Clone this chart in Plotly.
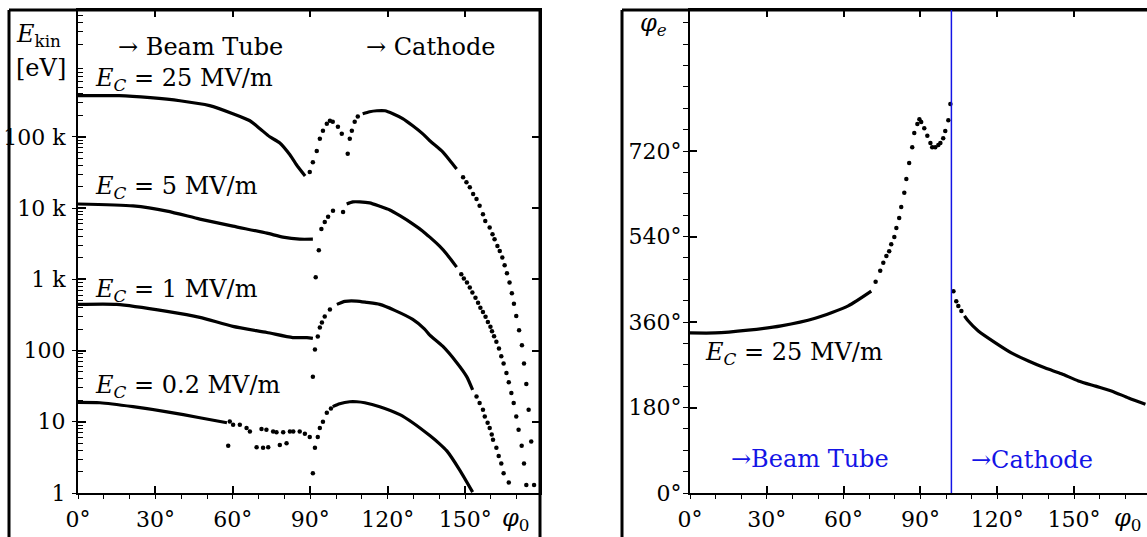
import plotly.graph_objects as go

# ---------------- data: left panel, E_kin [eV] vs phi0 [deg] ----------------
# E_C = 25 MV/m  (dense part drawn as line, sparse part as dots)
PHI25_LINE = [0, 16, 28, 39.5, 51, 60, 66.6, 70.5, 74.3, 78.2, 82.1, 85.2, 88, None,
              110.3, 113, 115.8, 118.9, 122, 125.8, 129.7, 133.6, 136.3, 141.3, 144, 146.7]
E25_LINE = [378e3, 378e3, 354e3, 321e3, 274e3, 211e3, 168e3, 130e3, 100e3, 82e3, 56e3, 38e3, 28.2e3, None,
            211e3, 225e3, 232e3, 232e3, 211e3, 180e3, 143e3, 110e3, 88e3, 61.5e3, 47e3, 35.4e3]
PHI25_DOTS = [89.8, 91, 92.5, 93.7, 94.9, 96.4, 97.6, 98.7, 100.7, 102.2, 104.5, 105.3, 106.1, 107.2, 108.4,
              149.2, 150.5, 151.8, 153.1, 154.4, 155.6, 156.9, 157.8, 159.5, 160.6, 161.4, 162.5, 163.4,
              164.4, 165.3, 166.2, 167.2, 168.1, 168.9, 169.8, 170.9, 172, 172.8, 173.7, 174.6, 175.6, 176.7]
E25_DOTS = [32e3, 44e3, 63e3, 94e3, 122e3, 152e3, 168e3, 163e3, 138e3, 110e3, 58e3, 94e3, 122e3, 163e3, 192e3,
            27.1e3, 23e3, 19.6e3, 15.7e3, 13.4e3, 10.8e3, 8.2e3, 6.6e3, 5.35e3, 4.3e3, 3.66e3, 2.94e3, 2.5e3,
            2.02e3, 1570, 1220, 899, 635, 455, 304, 193, 119, 66, 34, 14.8, 5.3, 1.3]

# E_C = 5 MV/m
PHI5_LINE = [0, 21.3, 34.5, 47.2, 60, 73.2, 79.4, 85.9, 91, None,
             104.1, 106.5, 109.2, 113, 116.9, 120.8, 124.7, 129.8, 133.6, 136.3, 140.1, 142.9, 146.7]
E5_LINE = [11.4e3, 10.7e3, 9.07e3, 7.0e3, 5.57e3, 4.44e3, 3.91e3, 3.66e3, 3.66e3, None,
           11.4e3, 12.2e3, 12.2e3, 11.8e3, 10.6e3, 9.4e3, 7.8e3, 5.96e3, 4.74e3, 3.9e3, 2.92e3, 2.25e3, 1.48e3]
PHI5_DOTS = [92.1, 93.3, 94.3, 95.6, 96.9, 98.8, 102.7,
             148.5, 149.5, 150.7, 151.8, 152.8, 154, 155, 155.9, 156.9, 157.9, 158.8, 159.8, 160.4, 161.2,
             162.1, 163.1, 164, 164.9, 166, 166.9, 167.9, 168.8, 169.8, 170.7, 171.9, 172.8, 173.7]
E5_DOTS = [1070, 2560, 5060, 6350, 7540, 9170, 8800,
           1175, 1023, 899, 764, 650, 552, 470, 399, 346, 298, 251, 216, 187, 159,
           133, 107, 83, 66, 48.5, 35.8, 25.4, 18.3, 11.9, 7.7, 4.6, 2.6, 1.3]

# E_C = 1 MV/m
PHI1_LINE = [0, 15, 34.5, 47.2, 60, 73.2, 83.2, 88.7, 91, None,
             100.3, 103.4, 108, 111.9, 116.9, 122.7, 129.7, 134.3, 136.3, 141.3, 146.7, 150.6, 152.9]
E1_LINE = [444, 444, 354, 292, 218, 179, 152, 152, 148, None,
           444, 490, 495, 474, 444, 366, 273, 200, 165, 115, 68, 43, 28]
PHI1_DOTS = [91, 91.8, 92.9, 93.7, 94.5, 95.6, 97.6,
             154.4, 155.6, 156.9, 157.6, 158.7, 159.5, 160.3, 160.8, 162.1, 163, 164, 164.9, 166.9]
E1_DOTS = [43, 103, 157, 211, 248, 301, 378,
           22.7, 18.3, 14.8, 11.9, 9.7, 8.2, 6.6, 5.6, 4.3, 3.3, 2.6, 1.9, 1.4]

# E_C = 0.2 MV/m
PHI02_LINE = [0, 8.5, 21.3, 34.5, 47.2, 57.7, None,
              98.7, 101.4, 105.3, 108, 111.1, 116.9, 124.7, 129.7, 136.3, 140.1, 142.9, 147.9, 152.9]
E02_LINE = [18.7, 18.5, 16.3, 13.8, 11.4, 9.7, None,
            16.3, 17.9, 19.1, 19.1, 18.5, 16.3, 12.6, 9.7, 6.4, 4.9, 3.9, 2.1, 1.03]
PHI02_DOTS = [58.8, 60.1, 62.7, 65.3, 66.6, 71.1, 73.0, 75.6, 76.9, 79.5, 82.1, 83.4, 85.9, 87.9, 89.8,
              58.2, 69.2, 71.7, 73.7, 78.2, 80.8,
              91, 91.8, 92.9, 93.7, 94.9, 96.4, 98.0]
E02_DOTS = [10.1, 9.1, 9.1, 8.2, 7.3, 7.9, 7.7, 7.3, 7.1, 7.1, 7.3, 7.3, 7.3, 6.8, 6.1,
            4.6, 4.4, 4.3, 4.4, 4.7, 5.0,
            1.9, 4.3, 6.1, 8.2, 10.0, 13.4, 15.4]

# ---------------- data: right panel, phi_e [deg] vs phi0 [deg], E_C = 25 MV/m ----------------
PHIE_LINE_X = [0, 9.8, 22.7, 35.6, 48.9, 61.8, 70.8]
PHIE_LINE_Y = [337, 337, 343, 352, 368, 394, 425]
PHIE_DOTS_X = [72.5, 74.3, 75.5, 76.7, 77.8, 78.6, 79.8, 80.6, 81.7, 82.5, 83.7, 84.5, 85.6, 86.8, 87.6,
               88.8, 89.6, 90.3, 91.5, 92.7, 93.9, 94.6, 95.8, 97, 97.8, 98.9, 99.7, 100.9, 101.7,
               102.9, 104, 104.8, 106]
PHIE_DOTS_Y = [445, 468, 485, 499, 509, 524, 539, 558, 579, 602, 632, 661, 695, 728, 758,
               777, 787, 781, 768, 752, 737, 728, 728, 733, 737, 747, 762, 785, 819,
               425, 404, 394, 383]
PHIE_CATH_X = [107.2, 108.7, 112.6, 119.3, 125.5, 132.2, 138.8, 145.1, 151.7, 158.4, 164.6, 171.3, 177.9]
PHIE_CATH_Y = [373, 362, 341, 316, 295, 278, 263, 251, 236, 225, 215, 200, 187]
BOUNDARY_PHI0 = 102.1

# ---------------- ticks ----------------
X_TICKS = [0, 30, 60, 90, 120, 150]
X_TICKTEXT = ["0°", "30°", "60°", "90°", "120°", "150°"]
X_MINOR = list(range(0, 180, 10))
Y1_TICKS = [1, 10, 100, 1e3, 1e4, 1e5]
Y1_TICKTEXT = ["1", "10", "100", "1 k", "10 k", "100 k"]
Y1_MINOR = [m * 10 ** d for d in range(0, 7) for m in range(2, 10)]
Y2_TICKS = [0, 180, 360, 540, 720]
Y2_TICKTEXT = ["0°", "180°", "360°", "540°", "720°"]
Y2_MINOR = list(range(0, 1000, 45))

W, H = 1147, 537
MT, MB = 10, 44
PH = H - MT - MB

def px(x):
    return x / W

def py(y):
    return 1 - (y - MT) / PH

FONT = "DejaVu Serif"
BLACK = "black"
BLUE = "#1414e6"

fig = go.Figure()

def add_curve(xl, yl, xd, yd, xa, ya):
    fig.add_trace(go.Scatter(x=xl, y=yl, mode="lines",
                             line=dict(color=BLACK, width=3.2, shape="spline", smoothing=0.6),
                             xaxis=xa, yaxis=ya, showlegend=False, hoverinfo="skip", connectgaps=False))
    fig.add_trace(go.Scatter(x=xd, y=yd, mode="markers", marker=dict(color=BLACK, size=4.5),
                             xaxis=xa, yaxis=ya, showlegend=False, hoverinfo="skip"))

add_curve(PHI25_LINE, E25_LINE, PHI25_DOTS, E25_DOTS, "x", "y")
add_curve(PHI5_LINE, E5_LINE, PHI5_DOTS, E5_DOTS, "x", "y")
add_curve(PHI1_LINE, E1_LINE, PHI1_DOTS, E1_DOTS, "x", "y")
add_curve(PHI02_LINE, E02_LINE, PHI02_DOTS, E02_DOTS, "x", "y")
add_curve(PHIE_LINE_X, PHIE_LINE_Y, PHIE_DOTS_X, PHIE_DOTS_Y, "x2", "y2")
fig.add_trace(go.Scatter(x=PHIE_CATH_X, y=PHIE_CATH_Y, mode="lines",
                         line=dict(color=BLACK, width=3.2, shape="spline", smoothing=0.6),
                         xaxis="x2", yaxis="y2", showlegend=False, hoverinfo="skip"))

# dummy traces so the overlay (tick-only) axes are drawn
for xa, ya in [("x3", "y"), ("x", "y3"), ("x4", "y2"), ("x2", "y4")]:
    fig.add_trace(go.Scatter(x=[None], y=[None], xaxis=xa, yaxis=ya, showlegend=False, hoverinfo="skip"))

tickfont = dict(family=FONT, size=22, color=BLACK)
L_X_RANGE = [0, 179]
R_X_RANGE = [0, 178.5]
L_Y_RANGE = [0, 6.78]
R_Y_RANGE = [0, 1017]

common = dict(showgrid=False, zeroline=False, color=BLACK, automargin=False)

fig.update_layout(
    width=W, height=H,
    margin=dict(l=0, r=0, t=MT, b=MB, autoexpand=False),
    paper_bgcolor="white", plot_bgcolor="white",
    xaxis=dict(domain=[px(78), px(540)], range=L_X_RANGE, anchor="y",
               tickmode="array", tickvals=X_TICKS, ticktext=X_TICKTEXT,
               ticks="inside", ticklen=7, tickwidth=1.5, tickcolor=BLACK,
               showline=True, linewidth=2, linecolor=BLACK, mirror="ticks",
               tickfont=tickfont, ticklabelstandoff=6, **common),
    yaxis=dict(domain=[0, 1], type="log", range=L_Y_RANGE, anchor="x",
               tickmode="array", tickvals=Y1_TICKS, ticktext=Y1_TICKTEXT,
               ticks="inside", ticklen=8, tickwidth=1.5, tickcolor=BLACK,
               showline=True, linewidth=2, linecolor=BLACK, mirror="ticks",
               tickfont=tickfont, ticklabelstandoff=6, **common),
    xaxis3=dict(overlaying="x", anchor="y", range=L_X_RANGE, tickmode="array", tickvals=X_MINOR,
                ticks="outside", ticklen=5, tickwidth=1.3, tickcolor=BLACK, showticklabels=False,
                showline=False, **common),
    yaxis3=dict(overlaying="y", anchor="x", side="left", type="log", range=L_Y_RANGE,
                tickmode="array", tickvals=Y1_TICKS, ticks="outside", ticklen=5, tickwidth=1.3,
                tickcolor=BLACK, showticklabels=False, showline=False,
                minor=dict(tickmode="array", tickvals=Y1_MINOR, ticks="inside", ticklen=5,
                           tickwidth=1.2, tickcolor=BLACK, showgrid=False),
                **common),
    xaxis2=dict(domain=[px(690), 1], range=R_X_RANGE, anchor="y2",
                tickmode="array", tickvals=X_TICKS, ticktext=X_TICKTEXT,
                ticks="inside", ticklen=7, tickwidth=1.5, tickcolor=BLACK,
                showline=True, linewidth=2, linecolor=BLACK, mirror="ticks",
                tickfont=tickfont, ticklabelstandoff=6, **common),
    yaxis2=dict(domain=[0, 1], range=R_Y_RANGE, anchor="x2",
                tickmode="array", tickvals=Y2_TICKS, ticktext=Y2_TICKTEXT,
                ticks="inside", ticklen=7, tickwidth=1.5, tickcolor=BLACK,
                showline=True, linewidth=2, linecolor=BLACK, mirror=False,
                tickfont=tickfont, ticklabelstandoff=2, **common),
    xaxis4=dict(overlaying="x2", anchor="y2", range=R_X_RANGE, tickmode="array", tickvals=X_MINOR,
                ticks="outside", ticklen=5, tickwidth=1.3, tickcolor=BLACK, showticklabels=False,
                showline=False, **common),
    yaxis4=dict(overlaying="y2", anchor="x2", side="left", range=R_Y_RANGE, tickmode="array",
                tickvals=Y2_MINOR, ticks="outside", ticklen=6, tickwidth=1.3, tickcolor=BLACK,
                showticklabels=False, showline=False, **common),
)

# outer frames of the two panels
frame = dict(color=BLACK, width=3)
for (x0, y0, x1, y1) in [(9, 10, 9, 537), (9, 10, 540, 10), (540, 10, 540, 537),
                         (622, 10, 622, 537), (622, 10, 1147, 10)]:
    fig.add_shape(type="line", xref="paper", yref="paper", x0=px(x0), x1=px(x1), y0=py(y0), y1=py(y1),
                  line=frame)

# boundary between "beam tube" and "cathode" in right panel
fig.add_shape(type="line", xref="x2", yref="y2 domain", x0=BOUNDARY_PHI0, x1=BOUNDARY_PHI0, y0=0, y1=1,
              line=dict(color=BLUE, width=1.5))

def note(text, x, y, size=24, color=BLACK, xanchor="left"):
    fig.add_annotation(text=text, xref="paper", yref="paper", x=px(x), y=py(y), showarrow=False,
                       xanchor=xanchor, yanchor="middle", font=dict(family=FONT, size=size, color=color))

EC = "<i>E</i><sub><i>C</i></sub>"
note("<i>E</i><sub>kin</sub>", 14, 36)
note("[eV]", 14, 68)
note("→ Beam Tube", 116, 47)
note("→ Cathode", 364, 47)
note(EC + " = 25 MV/m", 93, 80)
note(EC + " = 5 MV/m", 93, 188)
note(EC + " = 1 MV/m", 93, 290)
note(EC + " = 0.2 MV/m", 93, 386)
note("<i>φ</i><sub>0</sub>", 500, 519)
note("<i>φ</i><sub><i>e</i></sub>", 638, 24)
note(EC + " = 25 MV/m", 703, 353)
note("→Beam Tube", 729, 459, color=BLUE)
note("→Cathode", 969, 460, color=BLUE)
note("<i>φ</i><sub>0</sub>", 1112, 519)

fig.write_html("out.html")
